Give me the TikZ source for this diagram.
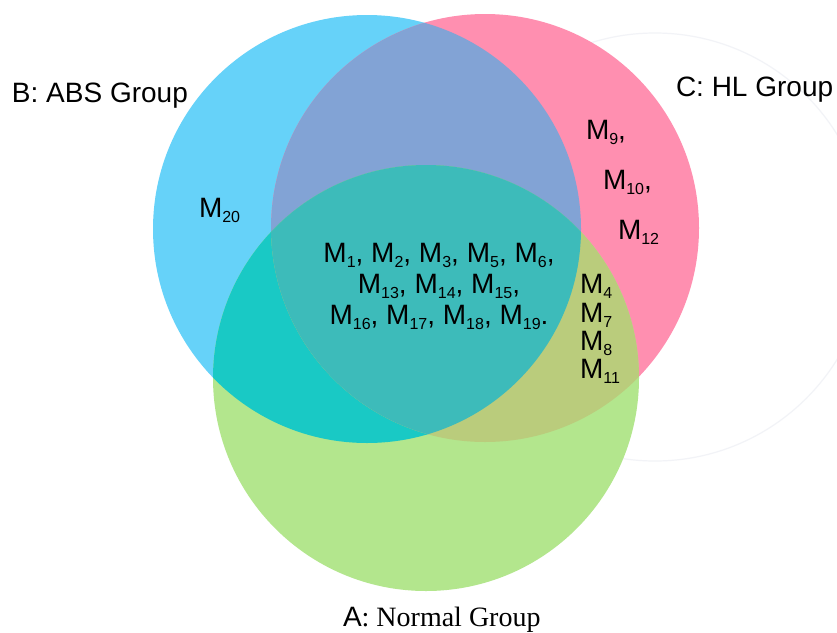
\documentclass[tikz,border=0pt]{standalone}
\usepackage{fontspec}
\setmainfont{Liberation Sans}
\newfontfamily\timesf{Liberation Serif}
\definecolor{cB}{HTML}{66D2F9}
\definecolor{cC}{HTML}{FF8FB0}
\definecolor{cA}{HTML}{B3E68D}
\definecolor{cBC}{HTML}{82A3D5}
\definecolor{cAB}{HTML}{19C9C5}
\definecolor{cAC}{HTML}{BACC7C}
\definecolor{cABC}{HTML}{3DBBBA}
\definecolor{faint}{HTML}{F2F3F7}
\newcommand\Mx[1]{M\smash{\raisebox{-5pt}{\fontsize{16pt}{16pt}\selectfont #1}}}
\tikzset{
  lbl/.style={inner sep=0pt, outer sep=0pt, font=\fontsize{28pt}{30pt}\selectfont},
  ml/.style={inner sep=0pt, outer sep=0pt, font=\fontsize{28pt}{30pt}\selectfont}
}
\begin{document}
\begin{tikzpicture}[x=1pt,y=-1pt]
\useasboundingbox (0,0) rectangle (837,632);
\fill[white] (0,0) rectangle (837,632);
\def\cBpath{(367,229) circle[radius=214]}
\def\cCpath{(485,228) circle[radius=214]}
\def\cApath{(426,378) circle[radius=213]}
% faint circle (behind)
\draw[faint, line width=1.2pt] (655,247) circle[radius=214];
% base circles
\fill[cB] \cBpath;
\fill[cC] \cCpath;
\fill[cA] \cApath;
% pairwise overlaps
\begin{scope}\clip \cBpath; \fill[cBC] \cCpath; \end{scope}
\begin{scope}\clip \cBpath; \fill[cAB] \cApath; \end{scope}
\begin{scope}\clip \cCpath; \fill[cAC] \cApath; \end{scope}
\begin{scope}\clip \cBpath; \clip \cCpath; \fill[cABC] \cApath; \end{scope}
% group labels
\node[lbl, anchor=base west] (labB) at (12,102) {B: ABS Group};
\node[lbl, anchor=base west] (labC) at (676,96) {C: HL Group};
\node[lbl, anchor=base west] (labA) at (343,626) {A{\timesf: Normal Group}};
% member labels
\node[ml, anchor=base west] (m20) at (199,217) {\Mx{20}};
\node[ml, anchor=base] (c1) at (439,262) {\Mx{1}, \Mx{2}, \Mx{3}, \Mx{5}, \Mx{6},};
\node[ml, anchor=base] (c2) at (439,293) {\Mx{13}, \Mx{14}, \Mx{15},};
\node[ml, anchor=base] (c3) at (439,324) {\Mx{16}, \Mx{17}, \Mx{18}, \Mx{19}.};
\node[ml, anchor=base west] (m9) at (586,139) {\Mx{9},};
\node[ml, anchor=base west] (m10) at (603,189) {\Mx{10},};
\node[ml, anchor=base west] (m12) at (618,239) {\Mx{12}};
\node[ml, anchor=base west] (m4) at (580,293) {\Mx{4}};
\node[ml, anchor=base west] (m7) at (580,322) {\Mx{7}};
\node[ml, anchor=base west] (m8) at (580,350) {\Mx{8}};
\node[ml, anchor=base west] (m11) at (580,378) {\Mx{11}};
\end{tikzpicture}
\end{document}
